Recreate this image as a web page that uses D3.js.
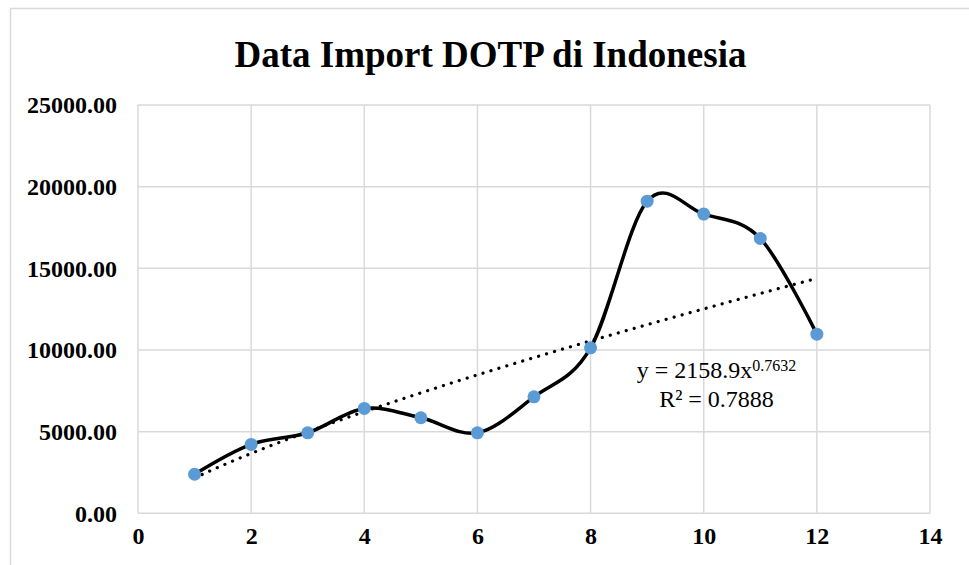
<!DOCTYPE html>
<html>
<head>
<meta charset="utf-8">
<script src="https://cdn.jsdelivr.net/npm/d3@7"></script>
<style>
  html, body { margin: 0; padding: 0; background: #fff; }
  svg { display: block; }
</style>
</head>
<body>
<svg id="chart" width="969" height="565"></svg>
<script>
// ---- data ----
const months = [1, 2, 3, 4, 5, 6, 7, 8, 9, 10, 11, 12];
const importValues = [2390, 4220, 4930, 6420, 5850, 4930, 7130, 10130, 19110, 18320, 16830, 10970];
const xTicks = [0, 2, 4, 6, 8, 10, 12, 14];
const yTicks = [0, 5000, 10000, 15000, 20000, 25000];
const titleText = "Data Import DOTP di Indonesia";
// power trendline shown on chart: y = 2158.9 x^0.7632, R² = 0.7888
const trendA = 2158.9;
const trendB = 0.7632;
const trendR2 = "0.7888";

// ---- layout ----
const svg = d3.select("#chart");
const plot = { left: 138, right: 930, top: 105, bottom: 513.3 };
const x = d3.scaleLinear().domain([0, 14]).range([plot.left, plot.right]);
const y = d3.scaleLinear().domain([0, 25000]).range([plot.bottom, plot.top]);
const serif = "'Liberation Serif', 'Times New Roman', serif";
const gridColor = "#d9d9d9";

// chart frame
svg.append("rect").attr("x", 10.5).attr("y", 8.5).attr("width", 1000).attr("height", 1000)
  .attr("fill", "#fff").attr("stroke", gridColor).attr("stroke-width", 1.5);

// title
svg.append("text").attr("x", 490.5).attr("y", 67)
  .attr("text-anchor", "middle").attr("font-family", serif).attr("font-weight", "bold")
  .attr("font-size", 37).attr("fill", "#000").text(titleText);

// gridlines
const g = svg.append("g");
g.selectAll("line.h").data(yTicks).join("line").attr("class", "h")
  .attr("x1", plot.left).attr("x2", plot.right)
  .attr("y1", d => y(d)).attr("y2", d => y(d))
  .attr("stroke", gridColor).attr("stroke-width", 1.5);
g.selectAll("line.v").data(xTicks).join("line").attr("class", "v")
  .attr("y1", plot.top).attr("y2", plot.bottom)
  .attr("x1", d => x(d)).attr("x2", d => x(d))
  .attr("stroke", gridColor).attr("stroke-width", 1.5);

// axes (labels only, using d3 axes)
const yAxis = d3.axisLeft(y).tickValues(yTicks).tickFormat(d3.format(".2f")).tickSize(0).tickPadding(21);
const yG = svg.append("g").attr("transform", `translate(${plot.left},0)`).call(yAxis);
yG.select(".domain").remove();
yG.selectAll("text").attr("font-family", serif).attr("font-weight", "bold")
  .attr("font-size", 24).attr("fill", "#000").attr("dy", "0.33em");

const xAxis = d3.axisBottom(x).tickValues(xTicks).tickFormat(d3.format("d")).tickSize(0).tickPadding(20);
const xG = svg.append("g").attr("transform", `translate(0,${plot.bottom})`).call(xAxis);
xG.select(".domain").remove();
xG.selectAll("text").attr("font-family", serif).attr("font-weight", "bold")
  .attr("font-size", 24).attr("fill", "#000").attr("dy", "0.45em");

// trendline (power fit shown on chart)
const trendXs = d3.range(1, 12.0001, 0.1);
const trendLine = d3.line().x(d => x(d)).y(d => y(trendA * Math.pow(d, trendB)));
svg.append("path").datum(trendXs).attr("d", trendLine)
  .attr("fill", "none").attr("stroke", "#000").attr("stroke-width", 3.2)
  .attr("stroke-linecap", "round").attr("stroke-dasharray", "0.1 8.2");

// smoothed data line
const pts = months.map((m, i) => ({ m, v: importValues[i] }));
const smooth = d3.line().x(d => x(d.m)).y(d => y(d.v)).curve(d3.curveCardinal.tension(0));
svg.append("path").datum(pts).attr("d", smooth)
  .attr("fill", "none").attr("stroke", "#000").attr("stroke-width", 3.5)
  .attr("stroke-linejoin", "round");

// markers
svg.selectAll("circle.pt").data(pts).join("circle").attr("class", "pt")
  .attr("cx", d => x(d.m)).attr("cy", d => y(d.v)).attr("r", 6.5)
  .attr("fill", "#5b9bd5");

// equation label
const eq = svg.append("text").attr("x", 716.5).attr("y", 378.3)
  .attr("text-anchor", "middle").attr("font-family", serif).attr("font-size", 24).attr("fill", "#000");
eq.append("tspan").text("y = " + trendA + "x");
eq.append("tspan").attr("font-size", 16).attr("dy", -7.6).text(String(trendB));
svg.append("text").attr("x", 716.5).attr("y", 406.7)
  .attr("text-anchor", "middle").attr("font-family", serif).attr("font-size", 24).attr("fill", "#000")
  .text("R² = " + trendR2);
</script>
</body>
</html>
